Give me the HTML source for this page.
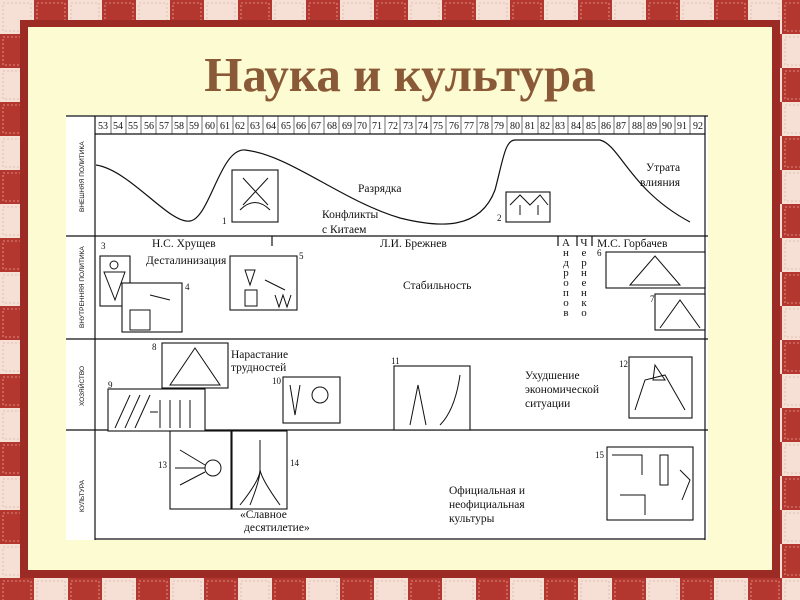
<!DOCTYPE html>
<html><head><meta charset="utf-8"><style>
html,body{margin:0;padding:0;width:800px;height:600px;overflow:hidden;background:#fff}
svg{display:block}
text{font-family:"Liberation Serif",serif;fill:#111}
</style></head><body>
<svg width="800" height="600" viewBox="0 0 800 600" xmlns="http://www.w3.org/2000/svg">
<defs>
<pattern id="chk" x="0" y="0" width="68" height="68" patternUnits="userSpaceOnUse">
<rect width="68" height="68" fill="#f6e0d6"/>
<rect x="34" y="0" width="34" height="34" fill="#b3362f"/>
<rect x="0" y="34" width="34" height="34" fill="#b3362f"/>
<rect x="3" y="3" width="28" height="28" fill="none" stroke="#d9b8a8" stroke-dasharray="2,2" stroke-width="0.8"/>
<rect x="37" y="37" width="28" height="28" fill="none" stroke="#d9b8a8" stroke-dasharray="2,2" stroke-width="0.8"/>
<rect x="37" y="3" width="28" height="28" fill="none" stroke="#e8a79c" stroke-dasharray="2,2" stroke-width="0.8"/>
<rect x="3" y="37" width="28" height="28" fill="none" stroke="#e8a79c" stroke-dasharray="2,2" stroke-width="0.8"/>
</pattern>
</defs>
<rect width="800" height="600" fill="url(#chk)"/>
<rect x="20" y="20" width="760" height="558" fill="#9b2b24"/>
<rect x="28" y="27" width="744" height="543" fill="#fdfbd2"/>
<text x="400" y="91" text-anchor="middle" font-size="49" font-weight="bold" style="fill:#8a5a38">Наука и культура</text>

<rect x="66" y="115" width="642" height="425" fill="#fff"/>
<g stroke="#111" stroke-width="1.2" fill="none">
<line x1="66" y1="116" x2="708" y2="116"/>
<line x1="95" y1="116" x2="95" y2="540"/>
<line x1="705" y1="116" x2="705" y2="540"/>
<line x1="95" y1="134" x2="705" y2="134"/>
<line x1="66" y1="236" x2="708" y2="236"/>
<line x1="66" y1="339" x2="708" y2="339"/>
<line x1="66" y1="430" x2="708" y2="430"/>
<line x1="95" y1="539" x2="705" y2="539"/>
<line x1="558" y1="236" x2="558" y2="246"/>
<line x1="577" y1="236" x2="577" y2="246"/>
<line x1="592" y1="236" x2="592" y2="246"/>
<line x1="272" y1="236" x2="272" y2="246"/>
<path d="M96 165 C130 170,170 225,190 221 C210 218,220 148,245 150 C290 155,340 200,400 218 C440 228,480 230,495 190 C503 160,505 140,515 140 L600 140 C620 145,630 190,690 222"/>
</g>
<g font-size="10" text-anchor="middle">
<text x="103" y="129">53</text><text x="118" y="129">54</text><text x="133" y="129">55</text><text x="149" y="129">56</text><text x="164" y="129">57</text><text x="179" y="129">58</text><text x="194" y="129">59</text><text x="210" y="129">60</text><text x="225" y="129">61</text><text x="240" y="129">62</text><text x="255" y="129">63</text><text x="271" y="129">64</text><text x="286" y="129">65</text><text x="301" y="129">66</text><text x="316" y="129">67</text><text x="332" y="129">68</text><text x="347" y="129">69</text><text x="362" y="129">70</text><text x="377" y="129">71</text><text x="393" y="129">72</text><text x="408" y="129">73</text><text x="423" y="129">74</text><text x="438" y="129">75</text><text x="454" y="129">76</text><text x="469" y="129">77</text><text x="484" y="129">78</text><text x="499" y="129">79</text><text x="515" y="129">80</text><text x="530" y="129">81</text><text x="545" y="129">82</text><text x="560" y="129">83</text><text x="576" y="129">84</text><text x="591" y="129">85</text><text x="606" y="129">86</text><text x="621" y="129">87</text><text x="637" y="129">88</text><text x="652" y="129">89</text><text x="667" y="129">90</text><text x="682" y="129">91</text><text x="698" y="129">92</text>
</g>
<g stroke="#111" stroke-width="0.6">
<path d="M111 116V134M126 116V134M141 116V134M156 116V134M172 116V134M187 116V134M202 116V134M217 116V134M233 116V134M248 116V134M263 116V134M278 116V134M294 116V134M309 116V134M324 116V134M339 116V134M355 116V134M370 116V134M385 116V134M400 116V134M416 116V134M431 116V134M446 116V134M461 116V134M477 116V134M492 116V134M507 116V134M522 116V134M538 116V134M553 116V134M568 116V134M583 116V134M599 116V134M614 116V134M629 116V134M644 116V134M660 116V134M675 116V134M690 116V134"/>
</g>
<g font-size="6.5">
<text transform="translate(84,212) rotate(-90)" style="font-family:'Liberation Sans',sans-serif">ВНЕШНЯЯ ПОЛИТИКА</text>
<text transform="translate(84,328) rotate(-90)" style="font-family:'Liberation Sans',sans-serif">ВНУТРЕННЯЯ ПОЛИТИКА</text>
<text transform="translate(84,406) rotate(-90)" style="font-family:'Liberation Sans',sans-serif">ХОЗЯЙСТВО</text>
<text transform="translate(84,512) rotate(-90)" style="font-family:'Liberation Sans',sans-serif">КУЛЬТУРА</text>
</g>
<g stroke="#111" stroke-width="1.1" fill="#fff">
<rect x="232" y="170" width="46" height="52"/>
<rect x="506" y="192" width="44" height="30"/>
<rect x="100" y="256" width="30" height="50"/>
<rect x="122" y="283" width="60" height="49"/>
<rect x="230" y="256" width="67" height="54"/>
<rect x="606" y="252" width="99" height="36"/>
<rect x="655" y="294" width="50" height="36"/>
<rect x="162" y="343" width="66" height="45"/>
<rect x="108" y="389" width="97" height="42"/>
<rect x="283" y="377" width="57" height="46"/>
<rect x="394" y="366" width="76" height="64"/>
<rect x="629" y="357" width="63" height="61"/>
<rect x="170" y="431" width="61" height="78"/>
<rect x="232" y="431" width="55" height="78"/>
<rect x="607" y="447" width="86" height="73"/>
</g>
<g stroke="#111" stroke-width="1" fill="none">
<path d="M240 210 Q255 195 270 210M243 178 L268 205M268 178 L243 205"/>
<path d="M510 205 L520 195 L530 205 L540 195 L548 205M520 215 V205M538 215 V205"/>
<circle cx="114" cy="265" r="4"/><path d="M104 272 L125 272 L115 300Z"/>
<path d="M130 310 h20 v20 h-20zM150 295 L170 300"/>
<path d="M245 270 L255 270 L250 285ZM245 290 h12 v16 h-12zM265 280 l20 10M275 295 l4 12 l4 -12l4 12l4 -12"/>
<path d="M630 285 L655 256 L680 285Z"/>
<path d="M660 328 L680 300 L700 328"/>
<path d="M170 385 L195 348 L220 385Z"/>
<path d="M115 428 L130 395M125 428 L140 395M135 428 L150 395M160 428 V400M170 428V400M180 428V400M190 428V400M150 412 h8"/>
<circle cx="320" cy="395" r="8"/><path d="M290 385 l5 30 l5 -30"/>
<path d="M410 425 L418 385 L426 425M440 425 Q455 410 460 375"/>
<path d="M635 410 L645 380 L665 375 L685 410M655 365 l10 15 l-12 0z"/>
<circle cx="213" cy="468" r="8"/><path d="M180 450 L205 465M180 485 L205 472M175 468 H205"/>
<path d="M260 440 V470 M240 505 Q260 480 260 470 M280 505 Q262 480 260 470M250 505 Q260 480 260 470"/>
<path d="M612 455 h30 v20 M660 455 v30 h8 v-30zM620 495 h25 v20 M680 470 l10 10 l-8 20"/>
</g>
<g font-size="9">
<text x="222" y="224">1</text><text x="497" y="221">2</text><text x="101" y="249">3</text><text x="185" y="290">4</text><text x="299" y="259">5</text><text x="597" y="256">6</text><text x="650" y="302">7</text><text x="152" y="350">8</text><text x="108" y="388">9</text><text x="272" y="384">10</text><text x="391" y="364">11</text><text x="619" y="367">12</text><text x="158" y="468">13</text><text x="290" y="466">14</text><text x="595" y="458">15</text>
</g>
<g font-size="11.5">
<text x="358" y="192">Разрядка</text>
<text x="322" y="218">Конфликты</text>
<text x="322" y="233">с Китаем</text>
<text x="646" y="171">Утрата</text>
<text x="640" y="186">влияния</text>
<text x="152" y="247">Н.С. Хрущев</text>
<text x="146" y="264">Десталинизация</text>
<text x="380" y="247">Л.И. Брежнев</text>
<text x="403" y="289">Стабильность</text>
<text x="597" y="247">М.С. Горбачев</text>
<text x="231" y="358">Нарастание</text>
<text x="231" y="371">трудностей</text>
<text x="525" y="379">Ухудшение</text>
<text x="525" y="393">экономической</text>
<text x="525" y="407">ситуации</text>
<text x="240" y="518">«Славное</text>
<text x="244" y="531">десятилетие»</text>
<text x="449" y="494">Официальная и</text>
<text x="449" y="508">неофициальная</text>
<text x="449" y="522">культуры</text>
</g>
<g font-size="11" text-anchor="middle">
<text x="566" y="246">А</text><text x="566" y="256">н</text><text x="566" y="266">д</text><text x="566" y="276">р</text><text x="566" y="286">о</text><text x="566" y="296">п</text><text x="566" y="306">о</text><text x="566" y="316">в</text>
<text x="584" y="246">Ч</text><text x="584" y="256">е</text><text x="584" y="266">р</text><text x="584" y="276">н</text><text x="584" y="286">е</text><text x="584" y="296">н</text><text x="584" y="306">к</text><text x="584" y="316">о</text>
</g>
</svg>
</body></html>
